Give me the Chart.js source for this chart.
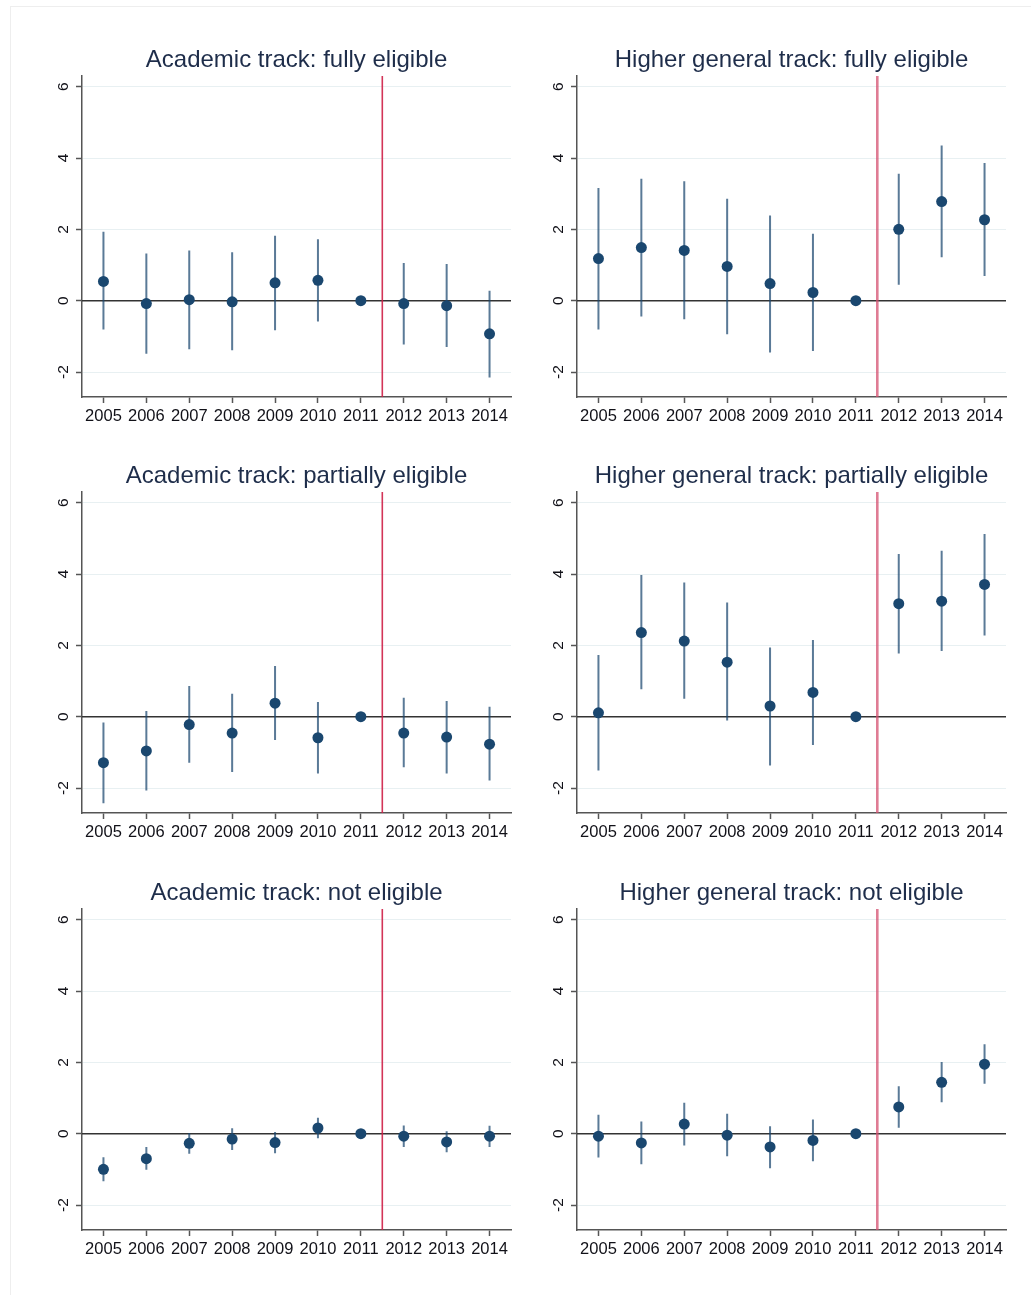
<!DOCTYPE html>
<html>
<head>
<meta charset="utf-8">
<script src="https://cdn.jsdelivr.net/npm/chart.js@4.4.0/dist/chart.umd.min.js"></script>
<style>
  html, body { margin: 0; padding: 0; background: #fff; }
  body { width: 1031px; height: 1295px; position: relative; overflow: hidden; }
  .frame { position: absolute; left: 10px; top: 6px; right: 0; bottom: 0;
           border-left: 1px solid #eeeeee; border-top: 1px solid #eeeeee; }
  .panel { position: absolute; width: 493px; height: 391px; }
</style>
</head>
<body>
<div class="frame"></div>
<div class="panel" style="left:40px;top:46px"><canvas id="p0"></canvas></div>
<div class="panel" style="left:535px;top:46px"><canvas id="p1"></canvas></div>
<div class="panel" style="left:40px;top:462px"><canvas id="p2"></canvas></div>
<div class="panel" style="left:535px;top:462px"><canvas id="p3"></canvas></div>
<div class="panel" style="left:40px;top:879px"><canvas id="p4"></canvas></div>
<div class="panel" style="left:535px;top:879px"><canvas id="p5"></canvas></div>
<script>
//
// Axes
var years = [2005, 2006, 2007, 2008, 2009, 2010, 2011, 2012, 2013, 2014];
var yTicks = [-2, 0, 2, 4, 6];
var yMin = -2.7, yMax = 6.3;
var xMin = 2004.5, xMax = 2014.5;
var reformYear = 2011.5;

//
// Academic track: fully eligible
var acadFullEst = [0.54, -0.08, 0.03, -0.03, 0.50, 0.57, 0, -0.08, -0.14, -0.93];
var acadFullLo  = [-0.81, -1.49, -1.36, -1.39, -0.83, -0.58, 0, -1.23, -1.30, -2.15];
var acadFullHi  = [1.93, 1.32, 1.41, 1.36, 1.82, 1.72, 0, 1.06, 1.03, 0.28];

//
// Higher general track: fully eligible
var highFullEst = [1.18, 1.49, 1.41, 0.96, 0.48, 0.23, 0, 2.00, 2.78, 2.27];
var highFullLo  = [-0.81, -0.44, -0.52, -0.94, -1.45, -1.41, 0, 0.45, 1.22, 0.69];
var highFullHi  = [3.16, 3.42, 3.35, 2.86, 2.39, 1.88, 0, 3.56, 4.35, 3.86];

//
// Academic track: partially eligible
var acadPartEst = [-1.29, -0.96, -0.22, -0.46, 0.38, -0.59, 0, -0.46, -0.57, -0.77];
var acadPartLo  = [-2.43, -2.07, -1.29, -1.55, -0.65, -1.59, 0, -1.42, -1.59, -1.79];
var acadPartHi  = [-0.16, 0.16, 0.86, 0.64, 1.42, 0.41, 0, 0.53, 0.44, 0.28];

//
// Higher general track: partially eligible
var highPartEst = [0.11, 2.36, 2.12, 1.53, 0.30, 0.68, 0, 3.17, 3.24, 3.71];
var highPartLo  = [-1.51, 0.77, 0.50, -0.11, -1.37, -0.79, 0, 1.77, 1.84, 2.28];
var highPartHi  = [1.73, 3.97, 3.76, 3.20, 1.94, 2.15, 0, 4.56, 4.65, 5.12];

//
// Academic track: not eligible
var acadNotEst = [-1.00, -0.70, -0.27, -0.15, -0.25, 0.16, 0, -0.07, -0.23, -0.07];
var acadNotLo  = [-1.33, -1.01, -0.56, -0.46, -0.55, -0.13, 0, -0.37, -0.52, -0.37];
var acadNotHi  = [-0.66, -0.37, 0.02, 0.15, 0.05, 0.45, 0, 0.23, 0.07, 0.22];

//
// Higher general track: not eligible
var highNotEst = [-0.07, -0.26, 0.27, -0.04, -0.37, -0.19, 0, 0.75, 1.44, 1.95];
var highNotLo  = [-0.67, -0.86, -0.33, -0.63, -0.97, -0.77, 0, 0.17, 0.88, 1.40];
var highNotHi  = [0.53, 0.34, 0.87, 0.56, 0.21, 0.40, 0, 1.33, 2.01, 2.51];

var fontFamily = "'Liberation Sans', Arial, sans-serif";

function drawPanel(id, title, est, lo, hi, rightCol) {
    var ci = [];
    years.forEach(function (yr, i) {
        ci.push({x: yr, y: lo[i]}, {x: yr, y: hi[i]}, {x: yr, y: null});
    });

    new Chart(document.getElementById(id), {
        type: 'scatter',
        data: {
            datasets: [{
                data: years.map(function (yr, i) { return {x: yr, y: est[i]}; }),
                pointRadius: 5.5,
                pointBackgroundColor: '#1a476f',
                pointBorderWidth: 0
            }, {
                data: ci,
                showLine: true,
                spanGaps: false,
                pointRadius: 0,
                borderColor: 'rgba(26, 71, 111, 0.72)',
                borderWidth: 2
            }, {
                data: [{x: reformYear, y: yMin}, {x: reformYear, y: yMax}],
                showLine: true,
                pointRadius: 0,
                borderColor: rightCol ? 'rgba(212, 80, 112, 0.75)' : 'rgba(206, 30, 70, 0.9)',
                borderWidth: rightCol ? 2.6 : 1.6
            }, {
                data: [{x: xMin, y: 0}, {x: xMax, y: 0}],
                showLine: true,
                pointRadius: 0,
                borderColor: '#333333',
                borderWidth: 1.5
            }]
        },
        options: {
            animation: false,
            responsive: true,
            maintainAspectRatio: false,
            layout: { padding: { left: 0, right: 22, top: 0, bottom: 0 } },
            scales: {
                x: {
                    type: 'linear',
                    min: xMin,
                    max: xMax,
                    afterBuildTicks: function (s) { s.ticks = years.map(function (v) { return {value: v}; }); },
                    afterFit: function (s) { s.height = 40; },
                    ticks: {
                        autoSkip: false,
                        maxRotation: 0,
                        padding: 4,
                        color: '#111118',
                        font: { family: fontFamily, size: 16.5 },
                        callback: function (v) { return String(v); }
                    },
                    grid: { drawOnChartArea: false, drawTicks: true, tickLength: 6, tickColor: '#555', tickWidth: 1.5 },
                    border: { color: '#555', width: 1.5 }
                },
                y: {
                    min: yMin,
                    max: yMax,
                    afterBuildTicks: function (s) { s.ticks = yTicks.map(function (v) { return {value: v}; }); },
                    afterFit: function (s) { s.width = 42; },
                    ticks: {
                        minRotation: 90,
                        maxRotation: 90,
                        crossAlign: 'center',
                        padding: 5,
                        color: '#111118',
                        font: { family: fontFamily, size: 15.5 },
                        callback: function (v) { return String(v); }
                    },
                    grid: { color: '#e8f0f2', lineWidth: 1, drawTicks: true, tickLength: 6, tickColor: '#555', tickWidth: 1.5 },
                    border: { color: '#555', width: 1.5 }
                }
            },
            plugins: {
                legend: { display: false },
                tooltip: { enabled: false },
                title: {
                    display: true,
                    text: title,
                    fullSize: false,
                    color: '#1e2d4a',
                    font: { family: fontFamily, size: 24, weight: 'normal' },
                    padding: { top: 0, bottom: 1.2 }
                }
            }
        }
    });
}

drawPanel('p0', 'Academic track: fully eligible', acadFullEst, acadFullLo, acadFullHi, false);
drawPanel('p1', 'Higher general track: fully eligible', highFullEst, highFullLo, highFullHi, true);
drawPanel('p2', 'Academic track: partially eligible', acadPartEst, acadPartLo, acadPartHi, false);
drawPanel('p3', 'Higher general track: partially eligible', highPartEst, highPartLo, highPartHi, true);
drawPanel('p4', 'Academic track: not eligible', acadNotEst, acadNotLo, acadNotHi, false);
drawPanel('p5', 'Higher general track: not eligible', highNotEst, highNotLo, highNotHi, true);
</script>
</body>
</html>
